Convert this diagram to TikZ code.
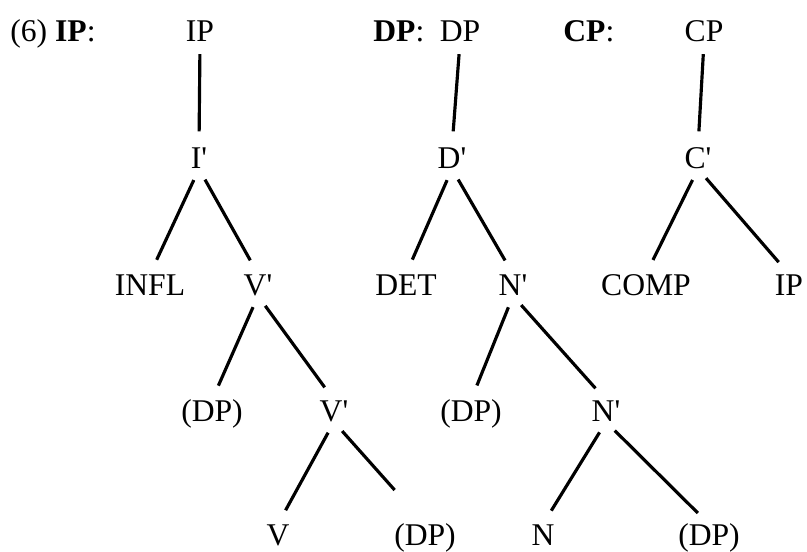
\documentclass[tikz,border=0pt]{standalone}
\usepackage{fontspec}
\setmainfont{Liberation Serif}
\newcommand{\prm}{\textquotesingle}
\tikzset{
    cat/.style={inner sep=0pt, text height=12pt, text depth=0pt, font=\fontsize{18}{21}\selectfont},
    branch/.style={line width=1.8pt, shorten <=7pt, shorten >=9pt}
}
\begin{document}
\begin{tikzpicture}[x=0.02cm, y=-0.02cm]
    \useasboundingbox (0,0) rectangle (807,551);

    % Headings
    \node[cat, anchor=west] (headip) at (10,31) {(6) \textbf{IP}:};
    \node[cat, anchor=west] (headdp) at (373,31) {\textbf{DP}:};
    \node[cat, anchor=west] (headcp) at (563,31) {\textbf{CP}:};

    % IP tree
    \node[cat] (ip) at (200,31) {IP};
    \node[cat] (ibar) at (199,158) {I\prm};
    \node[cat] (infl) at (150,285) {INFL};
    \node[cat] (vbar) at (258,285) {V\prm};
    \node[cat] (vspec) at (212,411) {(DP)};
    \node[cat] (vbarb) at (334,411) {V\prm};
    \node[cat] (v) at (278,535) {V};
    \node[cat] (vcomp) at (425,535) {(DP)};

    % DP tree
    \node[cat] (dp) at (460,31) {DP};
    \node[cat] (dbar) at (452,158) {D\prm};
    \node[cat] (det) at (406,285) {DET};
    \node[cat] (nbar) at (513,285) {N\prm};
    \node[cat] (nspec) at (471,411) {(DP)};
    \node[cat] (nbarb) at (606,411) {N\prm};
    \node[cat] (n) at (543,535) {N};
    \node[cat] (ncomp) at (709,535) {(DP)};

    % CP tree
    \node[cat] (cp) at (704,31) {CP};
    \node[cat] (cbar) at (698,158) {C\prm};
    \node[cat] (comp) at (646,285) {COMP};
    \node[cat] (cip) at (789,285) {IP};

    % Branches
    \draw[branch] (ip.south) -- (ibar.north);
    \draw[branch] (ibar.south) -- (infl.north);
    \draw[branch] (ibar.south) -- (vbar.north);
    \draw[branch] (vbar.south) -- (vspec.north);
    \draw[branch] (vbar.south) -- (vbarb.north);
    \draw[branch] (vbarb.south) -- (v.north);
    \draw[branch, shorten >=26pt] (vbarb.south) -- (vcomp.north);

    \draw[branch] (dp.south) -- (dbar.north);
    \draw[branch] (dbar.south) -- (det.north);
    \draw[branch] (dbar.south) -- (nbar.north);
    \draw[branch] (nbar.south) -- (nspec.north);
    \draw[branch] (nbar.south) -- (nbarb.north);
    \draw[branch] (nbarb.south) -- (n.north);
    \draw[branch] (nbarb.south) -- (ncomp.north);

    \draw[branch] (cp.south) -- (cbar.north);
    \draw[branch] (cbar.south) -- (comp.north);
    \draw[branch] (cbar.south) -- (cip.north);
\end{tikzpicture}
\end{document}
